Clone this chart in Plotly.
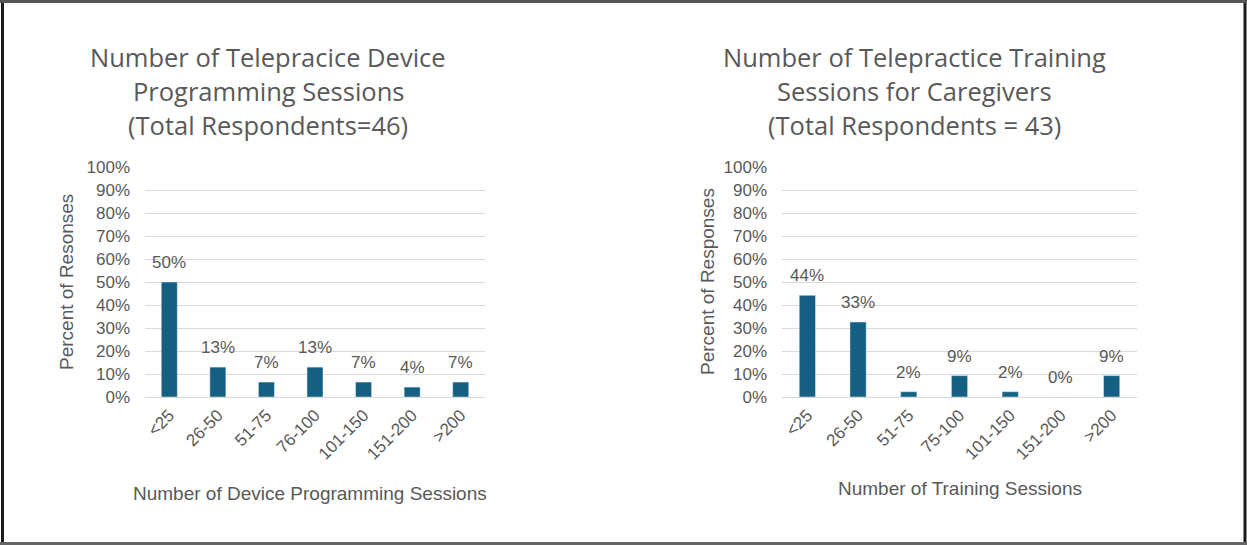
import math
import plotly.graph_objects as go

# ---- data ----
cats_left = ["<25", "26-50", "51-75", "76-100", "101-150", "151-200", ">200"]
vals_left = [50.0, 13.0, 6.5, 13.0, 6.5, 4.3, 6.5]

cats_right = ["<25", "26-50", "51-75", "75-100", "101-150", "151-200", ">200"]
vals_right = [44.2, 32.6, 2.3, 9.3, 2.3, 0.0, 9.3]

title_left = ["Number of Telepracice Device", "Programming Sessions", "(Total Respondents=46)"]
title_right = ["Number of Telepractice Training", "Sessions for Caregivers", "(Total Respondents = 43)"]
ytitle_left = "Percent of Resonses"
ytitle_right = "Percent of Responses"
xtitle_left = "Number of Device Programming Sessions"
xtitle_right = "Number of Training Sessions"

# ---- style ----
W, H = 1247, 545
BAR = "#156082"
TXT = "#595959"
GRID = "#D9D9D9"
FONT = "Liberation Sans, Arial, sans-serif"
TFONT = "Open Sans, sans-serif"


def px_x(p):
    return p / W


def px_y(p):
    return (H - p) / H


def half_up(v):
    return int(math.floor(v + 0.5))


fig = go.Figure()
fig.add_trace(go.Bar(x=cats_left, y=vals_left, marker_color=BAR, width=0.33,
                     xaxis="x", yaxis="y", hoverinfo="x+y"))
fig.add_trace(go.Bar(x=cats_right, y=vals_right, marker_color=BAR, width=0.32,
                     xaxis="x2", yaxis="y2", hoverinfo="x+y"))

ann = []
for cats, vals, xr, yr in [(cats_left, vals_left, "x", "y"), (cats_right, vals_right, "x2", "y2")]:
    for c, v in zip(cats, vals):
        ann.append(dict(x=c, y=v, xref=xr, yref=yr, text=f"{half_up(v)}%", showarrow=False,
                        yanchor="bottom", yshift=8, font=dict(family=FONT, size=17, color=TXT)))

for lines, cx in [(title_left, 268), (title_right, 915)]:
    for line, cy in zip(lines, [57, 91, 125]):
        ann.append(dict(x=px_x(cx), y=px_y(cy), xref="paper", yref="paper", text=line,
                        showarrow=False, xanchor="center", yanchor="middle",
                        font=dict(family=TFONT, size=25.5, color=TXT)))

ann.append(dict(x=px_x(67), y=px_y(282), xref="paper", yref="paper", text=ytitle_left,
                textangle=-90, showarrow=False, xanchor="center", yanchor="middle",
                font=dict(family=FONT, size=19, color=TXT)))
ann.append(dict(x=px_x(707), y=px_y(281), xref="paper", yref="paper", text=ytitle_right,
                textangle=-90, showarrow=False, xanchor="center", yanchor="middle",
                font=dict(family=FONT, size=19, color=TXT)))
ann.append(dict(x=px_x(310), y=px_y(493), xref="paper", yref="paper", text=xtitle_left,
                showarrow=False, xanchor="center", yanchor="middle",
                font=dict(family=FONT, size=19, color=TXT)))
ann.append(dict(x=px_x(960), y=px_y(488), xref="paper", yref="paper", text=xtitle_right,
                showarrow=False, xanchor="center", yanchor="middle",
                font=dict(family=FONT, size=19, color=TXT)))

yax = dict(range=[0, 100], dtick=10, ticksuffix="%", showgrid=True, gridcolor=GRID, gridwidth=1,
           zeroline=True, zerolinecolor=GRID, zerolinewidth=1, showline=False, ticks="",
           tickfont=dict(family=FONT, size=17, color=TXT), ticklabelstandoff=14,
           automargin=False, fixedrange=True)
xax = dict(tickangle=-45, showline=False, showgrid=False, ticks="",
           tickfont=dict(family=FONT, size=17, color=TXT), ticklabelstandoff=4,
           automargin=False, fixedrange=True)

fig.update_layout(
    width=W, height=H,
    margin=dict(l=0, r=0, t=0, b=0),
    paper_bgcolor="white", plot_bgcolor="white",
    showlegend=False,
    xaxis=dict(domain=[px_x(145), px_x(485)], anchor="y", **xax),
    yaxis=dict(domain=[px_y(397), px_y(167)], anchor="x", **yax),
    xaxis2=dict(domain=[px_x(782), px_x(1137)], anchor="y2", **xax),
    yaxis2=dict(domain=[px_y(397), px_y(167)], anchor="x2", **yax),
    annotations=ann,
    shapes=[
        dict(type="line", xref="paper", yref="paper", x0=px_x(2.5), x1=px_x(2.5), y0=0, y1=1,
             line=dict(color="#1a1a1a", width=3)),
        dict(type="line", xref="paper", yref="paper", x0=px_x(1245), x1=px_x(1245), y0=0, y1=1,
             line=dict(color="#1a1a1a", width=3)),
        dict(type="line", xref="paper", yref="paper", x0=0, x1=1, y0=px_y(1.5), y1=px_y(1.5),
             line=dict(color="#555555", width=3)),
        dict(type="line", xref="paper", yref="paper", x0=0, x1=1, y0=px_y(543.5), y1=px_y(543.5),
             line=dict(color="#666666", width=3)),
    ],
)

fig.write_html("out.html", config={"displayModeBar": False},
               post_script="document.body.style.margin='0';")
